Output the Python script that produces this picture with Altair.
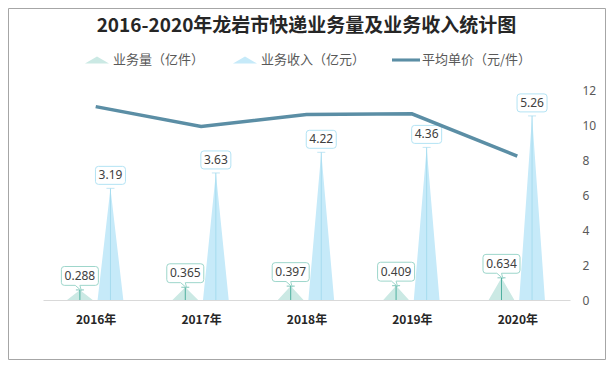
import json
import altair as alt
import pandas as pd

# ---- data ----
years = ["2016年", "2017年", "2018年", "2019年", "2020年"]
volume = [0.288, 0.365, 0.397, 0.409, 0.634]      # 业务量（亿件）
revenue = [3.19, 3.63, 4.22, 4.36, 5.26]          # 业务收入（亿元）
price = [11.05, 9.92, 10.6, 10.64, 8.22]          # 平均单价（元/件）
series = ["业务量（亿件）", "业务收入（亿元）", "平均单价（元/件）"]

# ---- layout / style constants ----
W, H = 527, 210
VOL_OFF, REV_OFF, HALF = -0.15, 0.14, 0.122
C_VOL_FILL, C_REV_FILL = "#cbe9e4", "#c6eaf9"
C_VOL_RULE, C_REV_RULE = "#4eb09f", "#a6dcef"
C_VOL_BOX, C_REV_BOX = "#9dd6cb", "#b3e3f4"
C_LINE = "#5b8ea5"
CJK = "Noto Sans CJK SC"

tri_rows, pt_rows = [], []
for i in range(len(years)):
    for s, vals, off in (("vol", volume, VOL_OFF), ("rev", revenue, REV_OFF)):
        v = vals[i]
        c = i + off
        for xx, yy in ((c - HALF, 0.0), (c, v), (c + HALF, 0.0)):
            tri_rows.append({"s": s, "k": f"{s}{i}", "x": xx, "y": yy})
        pt_rows.append({"s": s, "x": c, "v": v, "label": f"{v:g}"})
tri = pd.DataFrame(tri_rows)
pts = pd.DataFrame(pt_rows)
line_df = pd.DataFrame({"x": list(range(len(years))), "price": price})

xscale = alt.Scale(domain=[-0.5, len(years) - 0.5], nice=False, zero=False)
label_expr = json.dumps(years, ensure_ascii=False) + "[datum.value]"
xaxis = alt.Axis(values=list(range(len(years))), labelExpr=label_expr, title=None,
                 ticks=False, grid=False, domainColor="#d9d9d9", labelFont=CJK,
                 labelFontSize=12, labelFontWeight="bold", labelColor="#262626",
                 labelPadding=14)
yleft = alt.Scale(domain=[0, 6], nice=False)

def X(field="x"):
    return alt.X(f"{field}:Q", scale=xscale, axis=xaxis)

tri_vol = alt.Chart(tri).transform_filter("datum.s == 'vol'").mark_area(
    color=C_VOL_FILL, opacity=1).encode(
    x=X(), y=alt.Y("y:Q", scale=yleft, axis=None), detail="k:N")
tri_rev = alt.Chart(tri).transform_filter("datum.s == 'rev'").mark_area(
    color=C_REV_FILL, opacity=1).encode(
    x=X(), y=alt.Y("y:Q", scale=yleft, axis=None), detail="k:N")

rev_pts = alt.Chart(pts).transform_filter("datum.s == 'rev'")
vol_pts = alt.Chart(pts).transform_filter("datum.s == 'vol'")

def rules(base, color):
    r = base.mark_rule(color=color, strokeWidth=1).encode(
        x=X(), y=alt.Y("v:Q", scale=yleft, axis=None), y2=alt.datum(0))
    t = base.mark_tick(orient="horizontal", color=color, size=8, thickness=1).encode(
        x=X(), y=alt.Y("v:Q", scale=yleft, axis=None))
    return r + t

REV_BOX = ("M-0.8,-0.6L0.8,-0.6Q1,-0.6 1,-0.4L1,0.4Q1,0.6 0.8,0.6L-0.8,0.6"
           "Q-1,0.6 -1,0.4L-1,-0.4Q-1,-0.6 -0.8,-0.6Z")
VOL_BOX = ("M-0.84,-0.51L0.84,-0.51Q1,-0.51 1,-0.35L1,0.35Q1,0.51 0.84,0.51"
           "L0.0,0.51L0.08,0.8L-0.25,0.51L-0.84,0.51Q-1,0.51 -1,0.35L-1,-0.35"
           "Q-1,-0.51 -0.84,-0.51Z")

def boxes(base, path, size, stroke, yoff):
    b = base.mark_point(shape=path, size=size, filled=True, fill="white",
                        stroke=stroke, strokeWidth=1, opacity=1, yOffset=yoff).encode(
        x=X(), y=alt.Y("v:Q", scale=yleft, axis=None))
    t = base.mark_text(yOffset=yoff, font="Noto Sans", fontSize=12, color="#404040",
                       baseline="middle", align="center").encode(
        x=X(), y=alt.Y("v:Q", scale=yleft, axis=None), text="label:N")
    return b + t

left = alt.layer(
    tri_vol, tri_rev,
    rules(vol_pts, C_VOL_RULE), rules(rev_pts, C_REV_RULE),
    boxes(vol_pts, VOL_BOX, 1369, C_VOL_BOX, -14),
    boxes(rev_pts, REV_BOX, 900, C_REV_BOX, -13),
)

line = alt.Chart(line_df).mark_line(color=C_LINE, strokeWidth=3.5).encode(
    x=X(),
    y=alt.Y("price:Q", scale=alt.Scale(domain=[0, 12], nice=False),
            axis=alt.Axis(orient="right", values=[0, 2, 4, 6, 8, 10, 12], title=None,
                          ticks=False, tickSize=0, domain=False, grid=False,
                          labelPadding=12, labelFontSize=12, labelColor="#595959",
                          labelFont="Noto Sans")))

TRI_SYM = "M-0.86,0.25L0,-0.25L0.86,0.25Z"
LINE_SYM = "M-1,-0.11L1,-0.11L1,0.11L-1,0.11Z"
leg = alt.Legend(title=None, orient="none", legendX=40, legendY=-44,
                 direction="horizontal", columns=3, symbolSize=784,
                 labelFont=CJK, labelFontSize=13, labelColor="#595959",
                 labelOffset=2, columnPadding=26, padding=0,
                 symbolStrokeWidth=0, symbolOpacity=1)
legend_layer = alt.Chart(pd.DataFrame({"s": series})).transform_filter("false").mark_point(
    filled=True, opacity=1).encode(
    color=alt.Color("s:N", scale=alt.Scale(domain=series,
                                           range=[C_VOL_FILL, C_REV_FILL, C_LINE]),
                    legend=leg),
    shape=alt.Shape("s:N", scale=alt.Scale(domain=series,
                                           range=[TRI_SYM, TRI_SYM, LINE_SYM]),
                    legend=leg))

frame = alt.Chart(pd.DataFrame({"a": [0]})).mark_rect(
    filled=False, stroke="#a6a6a6", strokeWidth=1).encode(
    x=alt.value(-34.5), x2=alt.value(W + 35.5), y=alt.value(-81.5), y2=alt.value(H + 59.5))

chart = alt.layer(left, line, legend_layer, frame).resolve_scale(y="independent").properties(
    width=W, height=H,
    padding={"left": 35, "top": 82, "right": 36, "bottom": 60},
    autosize=alt.AutoSizeParams(type="none"),
    title=alt.Title("2016-2020年龙岩市快递业务量及业务收入统计图", font=CJK, fontSize=19,
                    fontWeight="bold", color="#262626", anchor="middle", offset=0, dy=28),
).configure_view(stroke=None)

chart.save("out.html", embed_options={"renderer": "svg", "actions": False})
